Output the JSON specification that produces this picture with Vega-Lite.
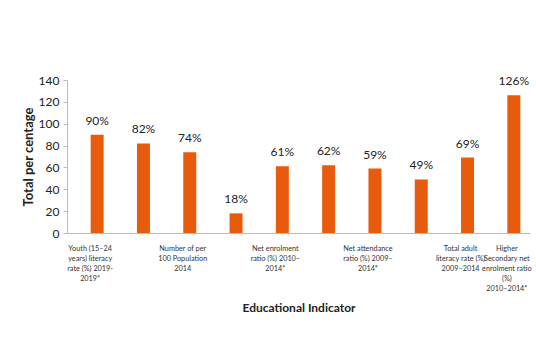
{
  "$schema": "https://vega.github.io/schema/vega-lite/v6.json",
  "autosize": "none",
  "width": 463,
  "height": 153,
  "padding": {"left": 67, "top": 80, "right": 6, "bottom": 104},
  "background": "white",
  "config": {"view": {"stroke": null}, "font": "Lato"},
  "data": {
    "values": [
      {"indicator": "1|Youth (15–24|years) literacy|rate (%) 2019-|2019*", "value": 90, "label": "90%"},
      {"indicator": "2|", "value": 82, "label": "82%"},
      {"indicator": "3|Number of per|100 Population|2014", "value": 74, "label": "74%"},
      {"indicator": "4|", "value": 18, "label": "18%"},
      {"indicator": "5|Net enrolment|ratio (%) 2010–|2014*", "value": 61, "label": "61%"},
      {"indicator": "6|", "value": 62, "label": "62%"},
      {"indicator": "7|Net attendance|ratio (%) 2009–|2014*", "value": 59, "label": "59%"},
      {"indicator": "8|", "value": 49, "label": "49%"},
      {"indicator": "9|Total adult|literacy rate (%)|2009–2014", "value": 69, "label": "69%"},
      {"indicator": "10|Higher|Secondary net|enrolment ratio|(%)|2010–2014*", "value": 126, "label": "126%"}
    ]
  },
  "encoding": {
    "x": {
      "field": "indicator",
      "type": "nominal",
      "sort": null,
      "scale": {"paddingInner": 0, "paddingOuter": 0},
      "axis": {
        "title": "Educational Indicator",
        "titleFont": "Lato",
        "titleFontSize": 12,
        "titleFontWeight": "bold",
        "titleColor": "#222",
        "titlePadding": 11,
        "labelAngle": 0,
        "labelExpr": "slice(split(datum.value, '|'), 1)",
        "labelFontSize": 7.3,
        "labelLineHeight": 10,
        "labelColor": "#333",
        "labelPadding": 11,
        "labelOverlap": false,
        "labelLimit": 0,
        "ticks": false,
        "domainColor": "#bbb"
      }
    },
    "y": {
      "field": "value",
      "type": "quantitative",
      "scale": {"domain": [0, 140]},
      "axis": {
        "title": "Total per centage",
        "titleFontSize": 13,
        "titleFontWeight": "bold",
        "titleColor": "#222",
        "titlePadding": 3,
        "values": [0, 20, 40, 60, 80, 100, 120, 140],
        "labelFontSize": 12,
        "labelColor": "#222",
        "labelPadding": 4,
        "tickSize": 4,
        "tickColor": "#bbb",
        "domainColor": "#bbb",
        "grid": false
      }
    }
  },
  "layer": [
    {"mark": {"type": "bar", "width": 13, "xOffset": 7, "color": "#E95B0C"}},
    {
      "mark": {"type": "text", "xOffset": 7, "dy": -14, "baseline": "middle", "fontSize": 12, "color": "#222"},
      "encoding": {"text": {"field": "label", "type": "nominal"}}
    }
  ]
}
